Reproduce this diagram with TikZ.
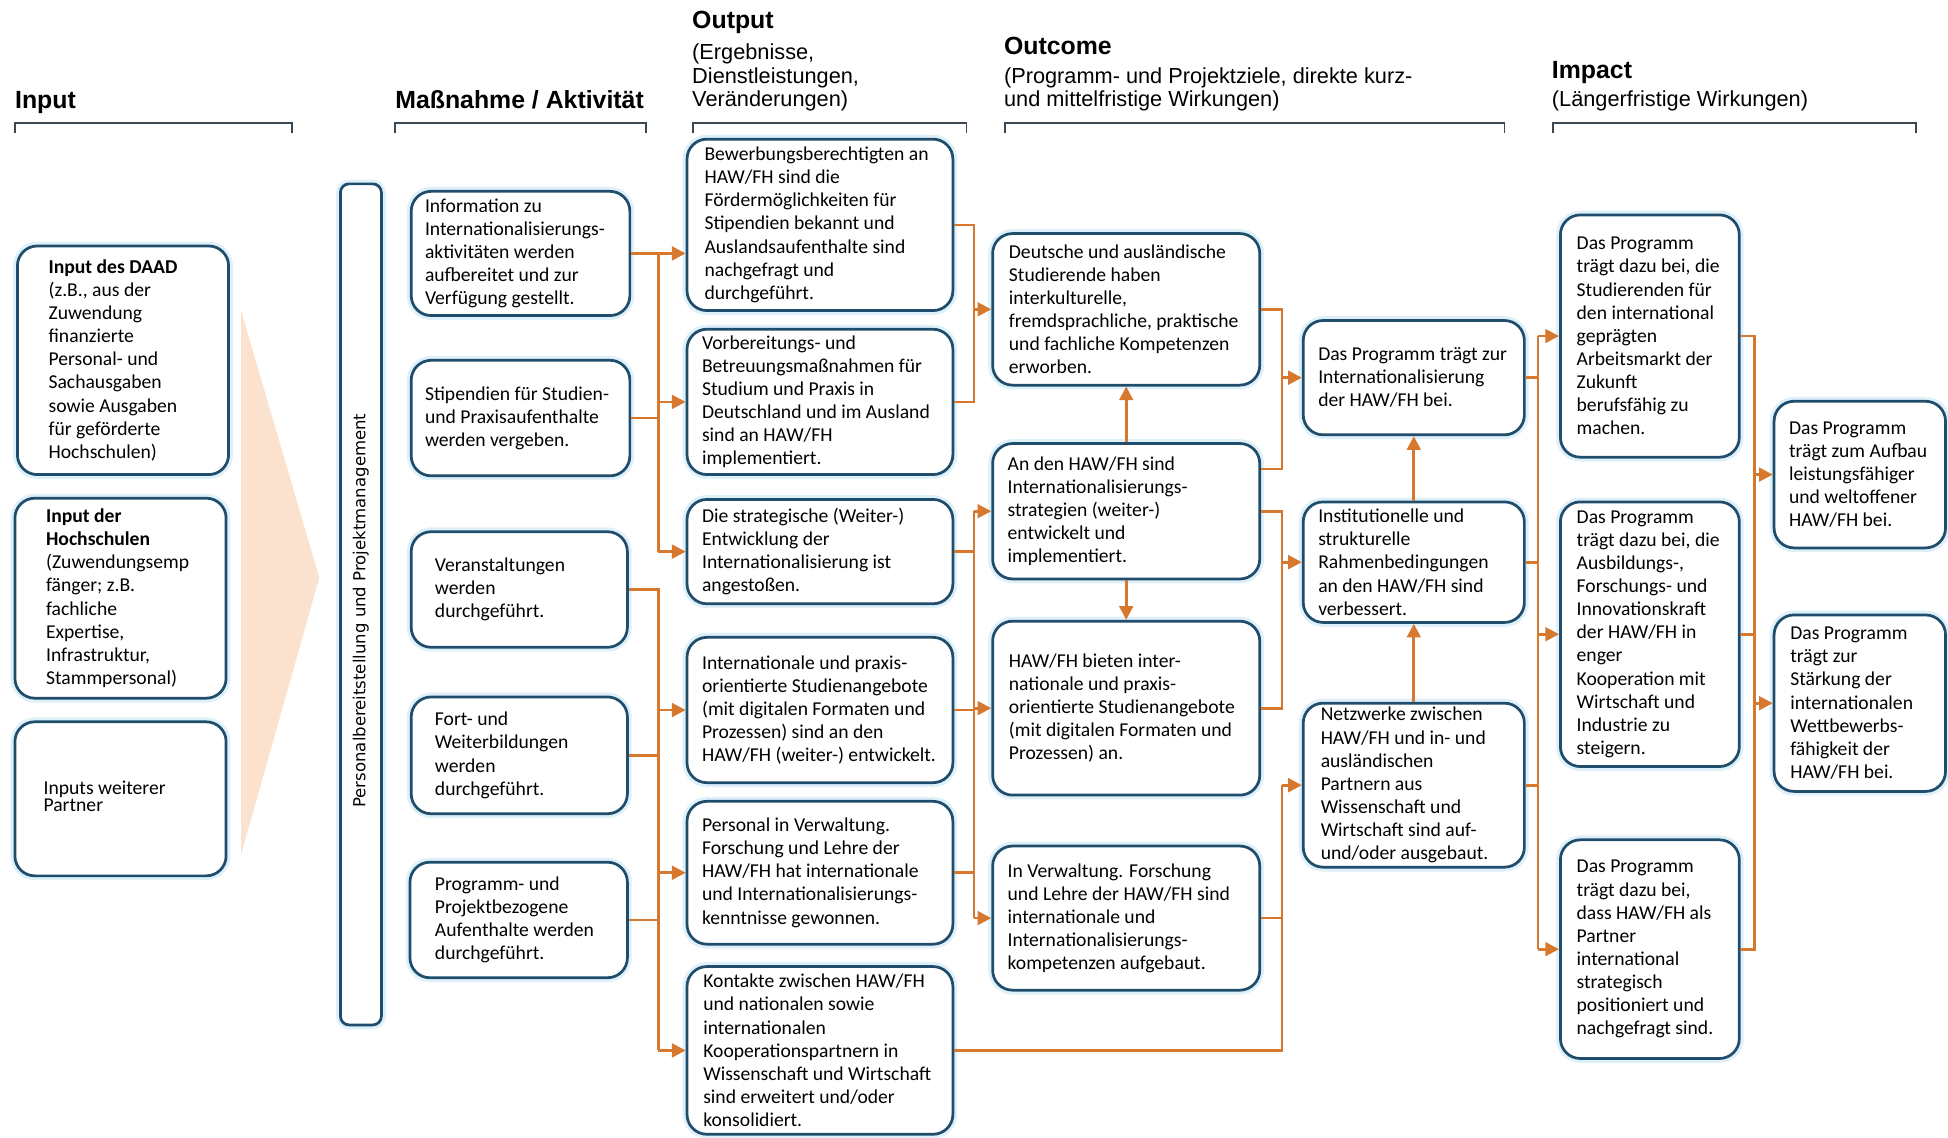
\documentclass[tikz,border=0pt]{standalone}
\usepackage{fontspec}
\setmainfont{Carlito}
\newfontfamily\headfont{Liberation Sans}
\newfontfamily\barfont{DejaVu Sans}
\usetikzlibrary{arrows.meta,calc}
\definecolor{bxline}{RGB}{31,77,107}
\definecolor{glow}{RGB}{222,240,249}
\definecolor{org}{RGB}{214,121,47}
\definecolor{peach}{RGB}{250,226,207}
\definecolor{brkc}{RGB}{60,72,82}
\newcommand\mybox[5]{\node[box, minimum width={#4-#2}, minimum height={#5-#3}] (#1) at ({(#2+#4)/2},{(#3+#5)/2}) {};}
\begin{document}
\begin{tikzpicture}[x=1pt,y=-1pt,
  box/.style={draw=bxline, line width=2.2pt, rounded corners=16pt, fill=white, preaction={draw=glow, line width=7pt}, inner sep=0pt},
  txt/.style={anchor=west, align=left, inner sep=0pt, font=\fontsize{15.8}{18.6}\selectfont},
  ln/.style={draw=org, line width=2.2pt},
  arr/.style={draw=org, line width=2.2pt, -{Triangle[length=11pt,width=11pt]}},
  brk/.style={draw=brkc, line width=1.4pt},
  hb/.style={anchor=base west, inner sep=0pt, font=\headfont\bfseries\fontsize{20}{24}\selectfont},
  hr/.style={anchor=base west, inner sep=0pt, font=\headfont\fontsize{17.5}{21}\selectfont},
]
\useasboundingbox (0,0) rectangle (1568,916);
\fill[white] (0,0) rectangle (1568,916);

% headings
\node[hb] (hIn) at (12,87) {Input};
\node[hb] (hMa) at (318,87) {Maßnahme / Aktivität};
\node[hb] (hOu) at (557,23) {Output};
\node[hr] (hOu1) at (557,48) {(Ergebnisse,};
\node[hr] (hOu2) at (557,67) {Dienstleistungen,};
\node[hr] (hOu3) at (557,85.5) {Veränderungen)};
\node[hb] (hOc) at (808,44) {Outcome};
\node[hr] (hOc1) at (808,67) {(Programm- und Projektziele, direkte kurz-};
\node[hr] (hOc2) at (808,85.5) {und mittelfristige Wirkungen)};
\node[hb] (hIm) at (1249,63) {Impact};
\node[hr] (hIm1) at (1249,85.5) {(Längerfristige Wirkungen)};

\draw[brk] (12,107) -- (12,99) -- (235,99) -- (235,107);
\draw[brk] (318,107) -- (318,99) -- (520,99) -- (520,107);
\draw[brk] (558,107) -- (558,99) -- (778,99) -- (778,107);
\draw[brk] (809,107) -- (809,99) -- (1211,99) -- (1211,107);
\draw[brk] (1250,107) -- (1250,99) -- (1542,99) -- (1542,107);

% big pale arrow
\fill[peach] (194,250) -- (257,465) -- (194,688) -- cycle;

% boxes
\mybox{In1}{14}{198}{184}{382}
\mybox{In2}{12}{401}{182}{562}
\mybox{In3}{12}{581}{182}{705}
\node[box, rounded corners=7pt, minimum width=33, minimum height=677] (bar) at (290.5,486.5) {};
\mybox{M1}{331}{154}{507}{254}
\mybox{M2}{331}{290}{507}{383}
\mybox{M3}{331}{428}{505}{521}
\mybox{M4}{331}{561}{505}{655}
\mybox{M5}{330}{694}{505}{787}
\mybox{O1}{553}{112}{767}{250}
\mybox{O2}{553}{265}{767}{382}
\mybox{O3}{553}{402}{767}{486}
\mybox{O4}{553}{513}{767}{630}
\mybox{O5}{553}{645}{767}{760}
\mybox{O6}{553}{778}{767}{913}
\mybox{C1}{799}{188}{1014}{310}
\mybox{C2}{799}{357}{1014}{466}
\mybox{C3}{799}{500}{1014}{640}
\mybox{C4}{799}{681}{1014}{797}
\mybox{D1}{1049}{258}{1227}{350}
\mybox{D2}{1049}{404}{1227}{501}
\mybox{D3}{1049}{566}{1227}{698}
\mybox{I1}{1256}{173}{1400}{368}
\mybox{I2}{1256}{404}{1400}{617}
\mybox{I3}{1256}{676}{1400}{852}
\mybox{J1}{1428}{323}{1566}{441}
\mybox{J2}{1428}{495}{1566}{637}

% texts
\node[txt] (In1t) at ([xshift=26pt]In1.west) {\textbf{Input des DAAD}\\(z.B., aus der\\Zuwendung\\finanzierte\\Personal- und\\Sachausgaben\\sowie Ausgaben\\für geförderte\\Hochschulen)};
\node[txt] (In2t) at ([xshift=26pt]In2.west) {\textbf{Input der}\\\textbf{Hochschulen}\\(Zuwendungsemp\\fänger; z.B.\\fachliche\\Expertise,\\Infrastruktur,\\Stammpersonal)};
\node[txt, font=\fontsize{15.8}{14}\selectfont] (In3t) at ([xshift=24pt,yshift=2pt]In3.west) {Inputs weiterer\\Partner};
\node[rotate=90, font=\barfont\fontsize{13.3}{16}\selectfont, inner sep=0pt] (bart) at ([yshift=-5pt]bar.center) {Personalbereitstellung und Projektmanagement};

\node[txt] (M1t) at ([xshift=12pt]M1.west) {Information zu\\Internationalisierungs-\\aktivitäten werden\\aufbereitet und zur\\Verfügung gestellt.};
\node[txt] (M2t) at ([xshift=12pt]M2.west) {Stipendien für Studien-\\und Praxisaufenthalte\\werden vergeben.};
\node[txt] (M3t) at ([xshift=20pt]M3.west) {Veranstaltungen\\werden\\durchgeführt.};
\node[txt] (M4t) at ([xshift=20pt]M4.west) {Fort- und\\Weiterbildungen\\werden\\durchgeführt.};
\node[txt] (M5t) at ([xshift=21pt]M5.west) {Programm- und\\Projektbezogene\\Aufenthalte werden\\durchgeführt.};

\node[txt] (O1t) at ([xshift=15pt]O1.west) {Bewerbungsberechtigten an\\HAW/FH sind die\\Fördermöglichkeiten für\\Stipendien bekannt und\\Auslandsaufenthalte sind\\nachgefragt und\\durchgeführt.};
\node[txt] (O2t) at ([xshift=13pt]O2.west) {Vorbereitungs- und\\Betreuungsmaßnahmen für\\Studium und Praxis in\\Deutschland und im Ausland\\sind an HAW/FH\\implementiert.};
\node[txt] (O3t) at ([xshift=13pt]O3.west) {Die strategische (Weiter-)\\Entwicklung der\\Internationalisierung ist\\angestoßen.};
\node[txt] (O4t) at ([xshift=13pt]O4.west) {Internationale und praxis-\\orientierte Studienangebote\\(mit digitalen Formaten und\\Prozessen) sind an den\\HAW/FH (weiter-) entwickelt.};
\node[txt] (O5t) at ([xshift=13pt]O5.west) {Personal in Verwaltung.\\Forschung und Lehre der\\HAW/FH hat internationale\\und Internationalisierungs-\\kenntnisse gewonnen.};
\node[txt] (O6t) at ([xshift=14pt]O6.west) {Kontakte zwischen HAW/FH\\und nationalen sowie\\internationalen\\Kooperationspartnern in\\Wissenschaft und Wirtschaft\\sind erweitert und/oder\\konsolidiert.};

\node[txt] (C1t) at ([xshift=14pt]C1.west) {Deutsche und ausländische\\Studierende haben\\interkulturelle,\\fremdsprachliche, praktische\\und fachliche Kompetenzen\\erworben.};
\node[txt] (C2t) at ([xshift=13pt]C2.west) {An den HAW/FH sind\\Internationalisierungs-\\strategien (weiter-)\\entwickelt und\\implementiert.};
\node[txt] (C3t) at ([xshift=14pt]C3.west) {HAW/FH bieten inter-\\nationale und praxis-\\orientierte Studienangebote\\(mit digitalen Formaten und\\Prozessen) an.};
\node[txt] (C4t) at ([xshift=13pt]C4.west) {In Verwaltung. Forschung\\und Lehre der HAW/FH sind\\internationale und\\Internationalisierungs-\\kompetenzen aufgebaut.};

\node[txt] (D1t) at ([xshift=13pt]D1.west) {Das Programm trägt zur\\Internationalisierung\\der HAW/FH bei.};
\node[txt] (D2t) at ([xshift=13pt]D2.west) {Institutionelle und\\strukturelle\\Rahmenbedingungen\\an den HAW/FH sind\\verbessert.};
\node[txt] (D3t) at ([xshift=15pt]D3.west) {Netzwerke zwischen\\HAW/FH und in- und\\ausländischen\\Partnern aus\\Wissenschaft und\\Wirtschaft sind auf-\\und/oder ausgebaut.};

\node[txt] (I1t) at ([xshift=14pt]I1.west) {Das Programm\\trägt dazu bei, die\\Studierenden für\\den international\\geprägten\\Arbeitsmarkt der\\Zukunft\\berufsfähig zu\\machen.};
\node[txt] (I2t) at ([xshift=14pt]I2.west) {Das Programm\\trägt dazu bei, die\\Ausbildungs-,\\Forschungs- und\\Innovationskraft\\der HAW/FH in\\enger\\Kooperation mit\\Wirtschaft und\\Industrie zu\\steigern.};
\node[txt] (I3t) at ([xshift=14pt]I3.west) {Das Programm\\trägt dazu bei,\\dass HAW/FH als\\Partner\\international\\strategisch\\positioniert und\\nachgefragt sind.};

\node[txt] (J1t) at ([xshift=13pt]J1.west) {Das Programm\\trägt zum Aufbau\\leistungsfähiger\\und weltoffener\\HAW/FH bei.};
\node[txt] (J2t) at ([xshift=14pt]J2.west) {Das Programm\\trägt zur\\Stärkung der\\internationalen\\Wettbewerbs-\\fähigkeit der\\HAW/FH bei.};

% bus coordinates
\coordinate (bA) at (530,0);
\coordinate (bB) at (784,0);
\coordinate (bC) at (1032,0);
\coordinate (bD) at (1238,0);
\coordinate (bE) at (1412,0);

% Massnahme -> Output (upper)
\draw[ln] (M2.east) -- (M2.east -| bA);
\draw[ln] (M1.east -| bA) -- (O3.west -| bA);
\draw[arr] (M1.east) -- (M1.east -| O1.west);
\draw[arr] (O2.west -| bA) -- (O2.west);
\draw[arr] (O3.west -| bA) -- (O3.west);
% Massnahme -> Output (lower)
\draw[ln] (M3.east) -- (M3.east -| bA) -- (O6.west -| bA);
\draw[ln] (M4.east) -- (M4.east -| bA);
\draw[ln] (M5.east) -- (M5.east -| bA);
\draw[arr] (O4.west -| bA) -- (O4.west);
\draw[arr] (O5.west -| bA) -- (O5.west);
\draw[arr] (O6.west -| bA) -- (O6.west);

% Output -> Outcome
\draw[ln] (O1.east) -- (O1.east -| bB) -- (O2.east -| bB) -- (O2.east);
\draw[arr] (C1.west -| bB) -- (C1.west);
\draw[ln] (O3.east) -- (O3.east -| bB);
\draw[ln] (C2.west -| bB) -- (C4.west -| bB);
\draw[ln] (O4.east) -- (O4.east -| bB);
\draw[ln] (O5.east) -- (O5.east -| bB);
\draw[arr] (C2.west -| bB) -- (C2.west);
\draw[arr] (C3.west -| bB) -- (C3.west);
\draw[arr] (C4.west -| bB) -- (C4.west);
\draw[arr] (C2.north) -- (C1.south);
\draw[arr] (C2.south) -- (C3.north);

% Outcome -> Outcome right
\coordinate (C2a) at ([yshift=34pt]C2.east);
\draw[ln] (C1.east) -- (C1.east -| bC) -- (C2a -| bC) -- (C2a);
\draw[arr] (D1.west -| bC) -- (D1.west);
\draw[ln] (C2.east) -- (C2.east -| bC) -- (C3.east -| bC) -- (C3.east);
\draw[arr] (D2.west -| bC) -- (D2.west);
\draw[ln] (O6.east) -- (O6.east -| bC) -- (D3.west -| bC);
\draw[ln] (C4.east) -- (C4.east -| bC);
\draw[arr] (D3.west -| bC) -- (D3.west);
\draw[arr] (D2.north) -- (D1.south);
\draw[arr] (D3.north) -- (D2.south);

% Outcome -> Impact
\draw[ln] (I1.west -| bD) -- (I3.west -| bD);
\draw[ln] (D1.east) -- (D1.east -| bD);
\draw[ln] (D2.east) -- (D2.east -| bD);
\draw[ln] (D3.east) -- (D3.east -| bD);
\draw[arr] (I1.west -| bD) -- (I1.west);
\draw[arr] (I2.west -| bD) -- (I2.west);
\draw[arr] (I3.west -| bD) -- (I3.west);

% Impact -> Impact right
\draw[ln] (I1.east) -- (I1.east -| bE) -- (I3.east -| bE) -- (I3.east);
\draw[ln] (I2.east) -- (I2.east -| bE);
\draw[arr] (J1.west -| bE) -- (J1.west);
\draw[arr] (J2.west -| bE) -- (J2.west);
\end{tikzpicture}
\end{document}
